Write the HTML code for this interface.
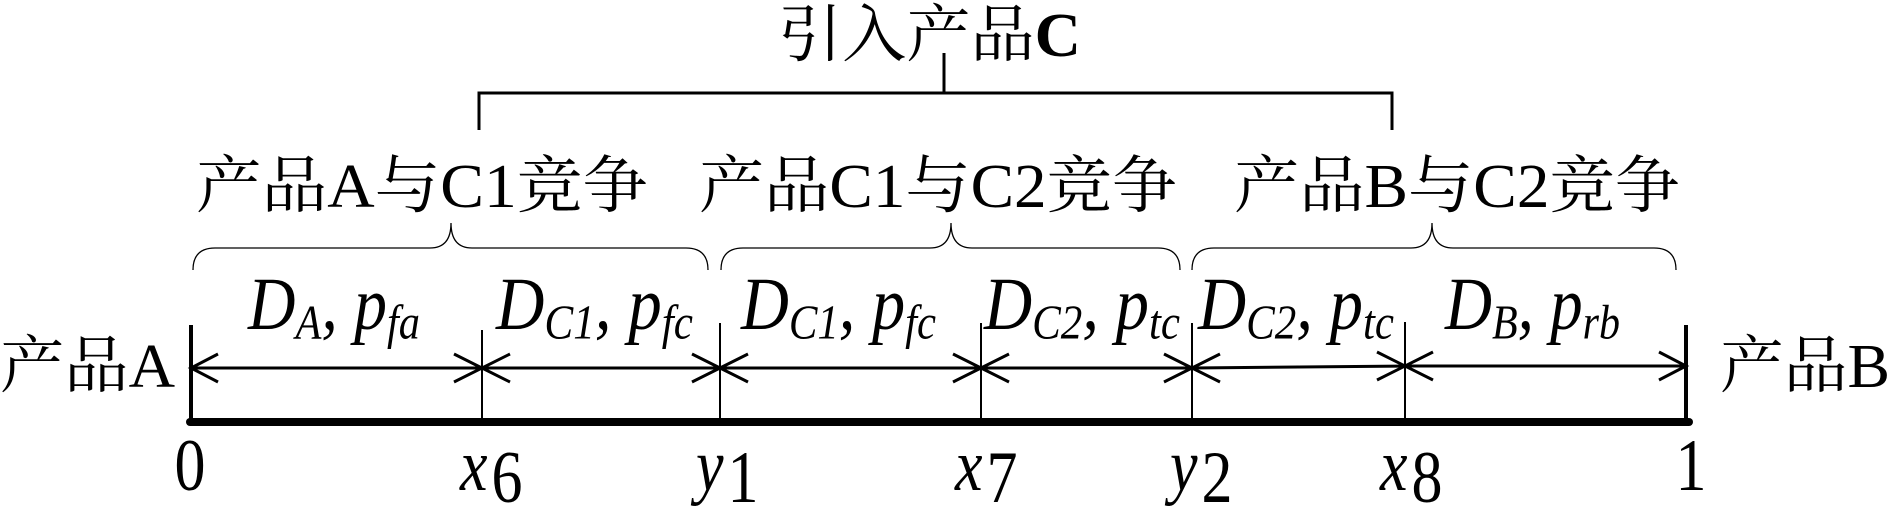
<!DOCTYPE html>
<html><head><meta charset="utf-8"><style>
html,body{margin:0;padding:0;background:#fff}
svg{display:block}
.cn{font-family:"Liberation Serif","Noto Serif CJK SC","Noto Sans CJK SC",serif;font-size:57px}
.m{font-family:"Liberation Serif",serif;font-style:italic;font-size:62px}
.s{font-size:40px}
.n{font-family:"Liberation Serif",serif;font-size:62px}
</style></head><body>
<svg width="1890" height="508" viewBox="0 0 1890 508" xmlns="http://www.w3.org/2000/svg">
<g fill="#000">
<g transform="matrix(1,0,0,1.1,0,-5.6)">
<text class="cn" x="778" y="56" textLength="303" lengthAdjust="spacingAndGlyphs">引入产品<tspan font-weight="bold">C</tspan></text>
</g>
<g transform="matrix(1,0,0,1.1,0,-20.7)">
<text class="cn" x="196" y="207" textLength="452" lengthAdjust="spacingAndGlyphs">产品A与C1竞争</text>
<text class="cn" x="699" y="207" textLength="478" lengthAdjust="spacingAndGlyphs">产品C1与C2竞争</text>
<text class="cn" x="1234" y="207" textLength="446" lengthAdjust="spacingAndGlyphs">产品B与C2竞争</text>
</g>
<g transform="matrix(1,0,0,1.1,0,-38.7)">
<text class="cn" x="0" y="387" textLength="175" lengthAdjust="spacingAndGlyphs">产品A</text>
<text class="cn" x="1720" y="387" textLength="170" lengthAdjust="spacingAndGlyphs">产品B</text>
</g>

<g transform="matrix(1,0,0,1.22,0,-72.4)">
<text class="m" x="248" y="329" textLength="172" lengthAdjust="spacingAndGlyphs">D<tspan class="s" dy="8">A</tspan><tspan dy="-8">, p</tspan><tspan class="s" dy="8">fa</tspan></text>
<text class="m" x="496" y="329" textLength="197" lengthAdjust="spacingAndGlyphs">D<tspan class="s" dy="8">C1</tspan><tspan dy="-8">, p</tspan><tspan class="s" dy="8">fc</tspan></text>
<text class="m" x="741" y="329" textLength="195" lengthAdjust="spacingAndGlyphs">D<tspan class="s" dy="8">C1</tspan><tspan dy="-8">, p</tspan><tspan class="s" dy="8">fc</tspan></text>
<text class="m" x="984" y="329" textLength="196" lengthAdjust="spacingAndGlyphs">D<tspan class="s" dy="8">C2</tspan><tspan dy="-8">, p</tspan><tspan class="s" dy="8">tc</tspan></text>
<text class="m" x="1198" y="329" textLength="196" lengthAdjust="spacingAndGlyphs">D<tspan class="s" dy="8">C2</tspan><tspan dy="-8">, p</tspan><tspan class="s" dy="8">tc</tspan></text>
<text class="m" x="1445" y="329" textLength="175" lengthAdjust="spacingAndGlyphs">D<tspan class="s" dy="8">B</tspan><tspan dy="-8">, p</tspan><tspan class="s" dy="8">rb</tspan></text>
</g>

<g transform="matrix(1,0,0,1.2,0,-98)">
<text class="n" x="190" y="490" text-anchor="middle">0</text>
<text class="m" x="460" y="490">x<tspan class="n s" font-style="normal" dx="4" dy="10">6</tspan></text>
<text class="m" x="696" y="490">y<tspan class="n s" font-style="normal" dx="4" dy="10">1</tspan></text>
<text class="m" x="955" y="490">x<tspan class="n s" font-style="normal" dx="4" dy="10">7</tspan></text>
<text class="m" x="1170" y="490">y<tspan class="n s" font-style="normal" dx="4" dy="10">2</tspan></text>
<text class="m" x="1380" y="490">x<tspan class="n s" font-style="normal" dx="4" dy="10">8</tspan></text>
<text class="n" x="1691" y="490" text-anchor="middle">1</text>
</g>
</g>

<g stroke="#000" fill="none">
<path d="M479 130 V93 H1392 V130 M944 93 V53" stroke-width="3"/>
<g stroke-width="1.3">
<path d="M193 270 Q193 248 215 248 H430 Q451 248 451 223 Q451 248 472 248 H686 Q708 248 708 270"/>
<path d="M721 270 Q721 248 743 248 H930 Q951 248 951 223 Q951 248 972 248 H1158 Q1180 248 1180 270"/>
<path d="M1192 270 Q1192 248 1214 248 H1411 Q1432 248 1432 223 Q1432 248 1453 248 H1654 Q1676 248 1676 270"/>
</g>
<line x1="190" y1="422" x2="1689" y2="422" stroke-width="8" stroke-linecap="round"/>
<line x1="191" y1="325" x2="191" y2="422" stroke-width="4"/>
<line x1="1686" y1="325" x2="1686" y2="422" stroke-width="4"/>
<g stroke-width="2">
<line x1="482" y1="330" x2="482" y2="422"/>
<line x1="720" y1="323" x2="720" y2="422"/>
<line x1="981" y1="323" x2="981" y2="422"/>
<line x1="1192" y1="323" x2="1192" y2="422"/>
<line x1="1405" y1="322" x2="1405" y2="422"/>
</g>
<g stroke-width="3">
<path d="M191 368 H1192 L1405 366 H1686"/>
<path d="M218 354 L191 368 L218 382"/>
<path d="M1659 352 L1686 366 L1659 380"/>
<path d="M454 354 L510 382 M454 382 L510 354"/>
<path d="M692 354 L748 382 M692 382 L748 354"/>
<path d="M953 354 L1009 382 M953 382 L1009 354"/>
<path d="M1164 354 L1220 382 M1164 382 L1220 354"/>
<path d="M1377 352 L1433 380 M1377 380 L1433 352"/>
</g>
</g>
</svg>
</body></html>
